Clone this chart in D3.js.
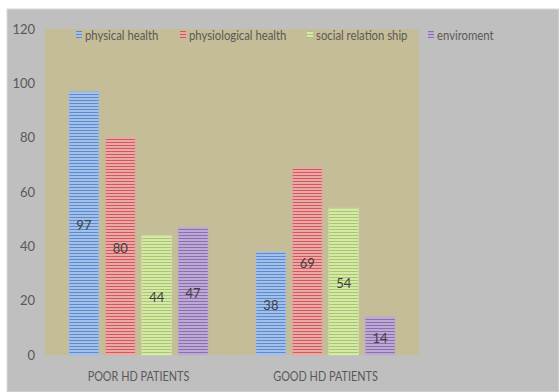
<!DOCTYPE html>
<html>
<head>
<meta charset="utf-8">
<script src="https://cdn.jsdelivr.net/npm/d3@7"></script>
<style>
  body { margin: 0; background: #fff; }
  svg { display: block; }
</style>
</head>
<body>
<svg id="chart"></svg>
<script>
// data
const categories = ["POOR HD PATIENTS", "GOOD HD PATIENTS"];
const seriesNames = ["physical health", "physiological health", "social relation ship", "enviroment"];
const physical = [97, 38];
const physiological = [80, 69];
const social = [44, 54];
const environment = [47, 14];
const yTicks = [0, 20, 40, 60, 80, 100, 120];

const seriesValues = [physical, physiological, social, environment];
const colors = [
  { light: "#a4c0e8", dark: "#5a8ad0" },
  { light: "#eaa8a8", dark: "#d05a5a" },
  { light: "#d6e8ae", dark: "#a6c865" },
  { light: "#bcaad4", dark: "#8a6eb0" }
];

const W = 559, H = 392;
const svg = d3.select("#chart").attr("width", W).attr("height", H);
const font = "Lato, 'DejaVu Sans Condensed', sans-serif";
const squeeze = 0.87; // the original uses a narrow font

// outer gray chart area
svg.append("rect")
  .attr("x", 7).attr("y", 9)
  .attr("width", W - 7).attr("height", H - 9)
  .attr("fill", "#bfbfbf")
  .attr("stroke", "#d9d9d9").attr("stroke-width", 1);

// striped fills
const defs = svg.append("defs");
colors.forEach((c, i) => {
  const p = defs.append("pattern")
    .attr("id", "stripe" + i)
    .attr("width", 4).attr("height", 3)
    .attr("patternUnits", "userSpaceOnUse");
  p.append("rect").attr("width", 4).attr("height", 3).attr("fill", c.light);
  p.append("rect").attr("y", 2).attr("width", 4).attr("height", 1).attr("fill", c.dark);
});

const margin = { left: 45, top: 29, right: 140, bottom: 37 };
const plotW = W - margin.left - margin.right;
const plotH = H - margin.top - margin.bottom;

const chart = svg.append("g").attr("transform", `translate(${margin.left},${margin.top})`);

chart.append("rect")
  .attr("width", plotW).attr("height", plotH)
  .attr("fill", "#c4bd97");

const x0 = d3.scaleBand().domain(categories).range([0, plotW]);
const x1 = d3.scaleBand().domain(d3.range(seriesNames.length))
  .range([x0.bandwidth() / 2 - 69.5, x0.bandwidth() / 2 + 69.5])
  .paddingInner(0.18);
const y = d3.scaleLinear().domain([0, 120]).range([plotH, 0]);

// y axis labels
const yAxis = d3.axisLeft(y).tickValues(yTicks).tickSize(0).tickPadding(10);
chart.append("g").call(yAxis)
  .call(g => g.select(".domain").remove())
  .selectAll("text")
  .attr("fill", "#595959")
  .style("font-family", font)
  .style("font-size", "13px");

// x axis labels
const xAxis = d3.axisBottom(x0).tickSize(0).tickPadding(17);
chart.append("g").attr("transform", `translate(0,${plotH})`).call(xAxis)
  .call(g => g.select(".domain").remove())
  .selectAll("text")
  .attr("fill", "#595959")
  .attr("transform", `scale(${squeeze},1)`)
  .style("font-family", font)
  .style("font-size", "12.5px");

// bars
const groups = chart.selectAll(".grp")
  .data(categories)
  .join("g")
  .attr("class", "grp")
  .attr("transform", d => `translate(${x0(d)},0)`);

groups.each(function(cat, ci) {
  const g = d3.select(this);
  const rows = seriesValues.map((vals, si) => ({ si, v: vals[ci] }));
  g.selectAll("rect")
    .data(rows)
    .join("rect")
    .attr("x", d => x1(d.si))
    .attr("y", d => y(d.v))
    .attr("width", x1.bandwidth())
    .attr("height", d => y(0) - y(d.v))
    .attr("fill", d => `url(#stripe${d.si})`)
    .attr("stroke", d => colors[d.si].light)
    .attr("stroke-opacity", 0.6)
    .attr("stroke-width", 1);
  g.selectAll("text")
    .data(rows)
    .join("text")
    .attr("x", d => x1(d.si) + x1.bandwidth() / 2)
    .attr("y", d => (y(d.v) + y(0)) / 2 + 2)
    .attr("dy", "0.35em")
    .attr("text-anchor", "middle")
    .attr("fill", "#404040")
    .style("font-family", font)
    .style("font-size", "13px")
    .text(d => d.v);
});

// legend
const legendX = [76, 180, 307, 428];
const legend = svg.selectAll(".leg")
  .data(seriesNames)
  .join("g")
  .attr("class", "leg")
  .attr("transform", (d, i) => `translate(${legendX[i]},35)`);
legend.append("rect")
  .attr("x", 0).attr("y", -4)
  .attr("width", 6).attr("height", 7)
  .attr("fill", (d, i) => `url(#stripe${i})`);
legend.append("text")
  .attr("x", 9 / squeeze).attr("dy", "0.35em")
  .attr("transform", `scale(${squeeze},1)`)
  .attr("fill", "#595959")
  .style("font-family", font)
  .style("font-size", "13px")
  .text(d => d);
</script>
</body>
</html>
